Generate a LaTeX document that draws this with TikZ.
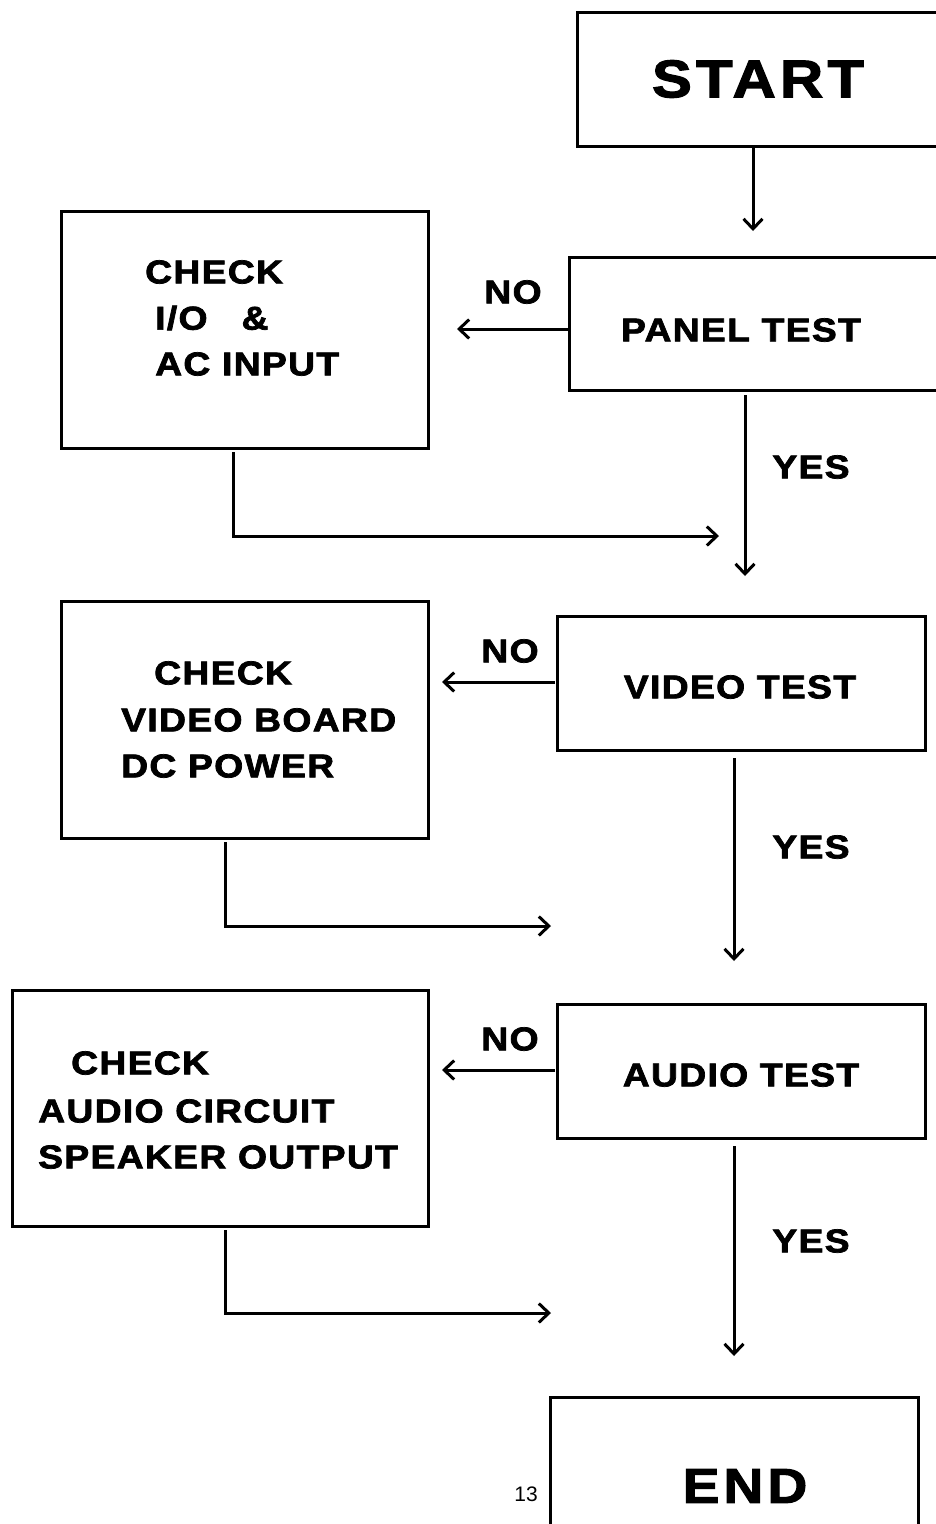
\documentclass[tikz,border=0pt]{standalone}
\usepackage{fontspec}
\usetikzlibrary{arrows.meta}
\newfontfamily\bk[FakeStretch=1.13,FakeBold=2.2,LetterSpace=4]{Liberation Sans Bold}
\newfontfamily\bkw[FakeStretch=1.13,FakeBold=2.2,LetterSpace=8]{Liberation Sans Bold}
\newfontfamily\rg{Liberation Sans}
\begin{document}
\begin{tikzpicture}[x=1pt,y=-1pt,
  lbl/.style={inner sep=0,font=\bk\fontsize{33}{33}\selectfont},
  big/.style={inner sep=0,font=\bkw\fontsize{53}{53}\selectfont},
  conn/.style={line width=3pt,-{Straight Barb[length=10pt,width=19pt,line width=3pt]}},
  plain/.style={line width=3pt}]
\useasboundingbox (0,0) rectangle (936,1524);
\clip (0,0) rectangle (936,1524);
% boxes
\draw[plain] (577,12) rectangle (960,146);
\node[big] (start) at (758,79) {START};
\draw[plain] (569,257) rectangle (960,390);
\node[lbl] (panel) at (741,330) {PANEL TEST};
\draw[plain] (61,211) rectangle (428,448);
\node[lbl,anchor=west] (c1a) at (145,272) {CHECK};
\node[lbl,anchor=west] (c1b) at (155,318) {I/O\hspace{34pt}\&};
\node[lbl,anchor=west] (c1c) at (155,364) {AC INPUT};
\draw[plain] (557,616) rectangle (925,750);
\node[lbl] (video) at (740,687) {VIDEO TEST};
\draw[plain] (61,601) rectangle (428,838);
\node[lbl,anchor=west] (c2a) at (154,673) {CHECK};
\node[lbl,anchor=west] (c2b) at (121,720) {VIDEO BOARD};
\node[lbl,anchor=west] (c2c) at (121,766) {DC POWER};
\draw[plain] (557,1004) rectangle (925,1138);
\node[lbl] (audio) at (741,1075) {AUDIO TEST};
\draw[plain] (12,990) rectangle (428,1226);
\node[lbl,anchor=west] (c3a) at (71,1063) {CHECK};
\node[lbl,anchor=west] (c3b) at (38,1111) {AUDIO CIRCUIT};
\node[lbl,anchor=west] (c3c) at (38,1157) {SPEAKER OUTPUT};
\draw[plain] (550,1570) -- (550,1397) -- (918,1397) -- (918,1570);
\node[big,font=\bkw\fontsize{49}{49}\selectfont] (end) at (745,1486) {END};
\node[inner sep=0,font=\rg\fontsize{21}{21}\selectfont] (page) at (526,1494) {13};
% coordinates
\coordinate (s1) at (753,146);
\coordinate (s2) at (753,231);
\coordinate (p1) at (569,329);
\coordinate (p2) at (457,329);
\coordinate (p3) at (745,395);
\coordinate (p4) at (745,576);
\coordinate (r1) at (233,452);
\coordinate (r1b) at (233,536);
\coordinate (r1e) at (719,536);
\coordinate (v1) at (555,682);
\coordinate (v2) at (442,682);
\coordinate (v3) at (734,758);
\coordinate (v4) at (734,961);
\coordinate (r2) at (225,842);
\coordinate (r2b) at (225,926);
\coordinate (r2e) at (551,926);
\coordinate (a1) at (555,1070);
\coordinate (a2) at (442,1070);
\coordinate (a3) at (734,1146);
\coordinate (a4) at (734,1356);
\coordinate (r3) at (225,1230);
\coordinate (r3b) at (225,1313);
\coordinate (r3e) at (551,1313);
% connectors
\draw[conn] (s1) -- (s2);
\draw[conn] (p1) -- (p2);
\node[lbl] (no1) at (513,292) {NO};
\draw[conn] (p3) -- (p4);
\node[lbl] (yes1) at (811,467) {YES};
\draw[conn] (r1) -- (r1b) -- (r1e);
\draw[conn] (v1) -- (v2);
\node[lbl] (no2) at (510,651) {NO};
\draw[conn] (v3) -- (v4);
\node[lbl] (yes2) at (811,847) {YES};
\draw[conn] (r2) -- (r2b) -- (r2e);
\draw[conn] (a1) -- (a2);
\node[lbl] (no3) at (510,1039) {NO};
\draw[conn] (a3) -- (a4);
\node[lbl] (yes3) at (811,1241) {YES};
\draw[conn] (r3) -- (r3b) -- (r3e);
\end{tikzpicture}
\end{document}
